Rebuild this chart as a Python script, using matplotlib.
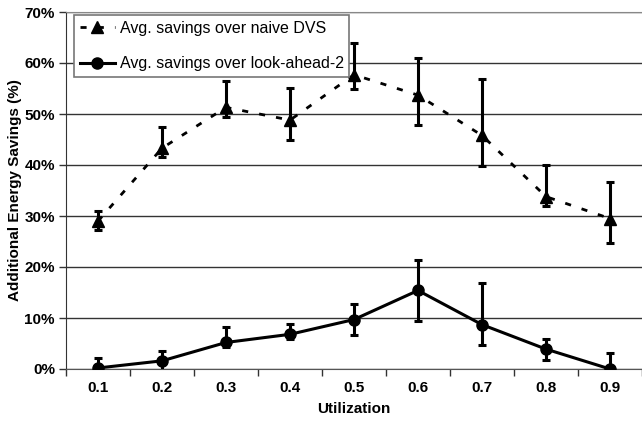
import numpy as np
import matplotlib
matplotlib.use("Agg")
import matplotlib.pyplot as plt

plt.rcParams['font.family'] = ['Liberation Sans', 'DejaVu Sans']

utilization = [0.1, 0.2, 0.3, 0.4, 0.5, 0.6, 0.7, 0.8, 0.9]
tick_labels = ['0.1', '0.2', '0.3', '0.4', '0.5', '0.6', '0.7', '0.8', '0.9']

# avg. savings over naive DVS (%) with low / high ends of the error bars
naive_mean = [29.0, 43.3, 51.3, 48.8, 57.7, 53.7, 45.8, 33.8, 29.5]
naive_low = [27.3, 41.5, 49.4, 44.9, 54.9, 47.8, 39.9, 32.0, 24.7]
naive_high = [31.0, 47.5, 56.5, 55.1, 63.9, 61.0, 56.9, 40.0, 36.6]

# avg. savings over look-ahead-2 (%)
la2_mean = [0.2, 1.6, 5.2, 6.8, 9.7, 15.4, 8.7, 3.9, 0.0]
la2_low = [-1.5, -0.5, 4.4, 5.8, 6.6, 9.4, 4.7, 1.8, -1.5]
la2_high = [2.2, 3.6, 8.3, 8.8, 12.7, 21.4, 16.8, 5.9, 3.1]

W, H = 642, 422
fig = plt.figure(figsize=(W / 100, H / 100), dpi=100)
ax = fig.add_axes([66 / W, (H - 369) / H, 576 / W, 357 / H])

x = np.array(utilization)
nm = np.array(naive_mean)
lm = np.array(la2_mean)

ax.errorbar(x, nm, yerr=[nm - np.array(naive_low), np.array(naive_high) - nm],
            fmt='none', ecolor='black', elinewidth=2.2, capsize=3, capthick=2.2,
            zorder=3)
ax.plot(x, nm, linestyle=(0, (2.2, 4.0)), color='black', lw=2.0, marker='^',
        markersize=8, label='Avg. savings over naive DVS', zorder=4)

ax.errorbar(x, lm, yerr=[lm - np.array(la2_low), np.array(la2_high) - lm],
            fmt='none', ecolor='black', elinewidth=2.2, capsize=3, capthick=2.2,
            zorder=3)
ax.plot(x, lm, linestyle='-', color='black', lw=2.2, marker='o',
        markersize=8, label='Avg. savings over look-ahead-2', zorder=4)

ax.set_xlim(0.05, 0.95)
ax.set_ylim(0, 70)
ax.set_yticks(range(0, 71, 10))
ax.set_yticklabels(['%d%%' % v for v in range(0, 71, 10)],
                   fontsize=11, fontweight='bold')
ax.set_xticks(x)
ax.set_xticklabels(tick_labels, fontsize=11, fontweight='bold')
ax.set_xticks(np.arange(0.05, 0.96, 0.1), minor=True)
ax.tick_params(axis='x', which='major', length=0, pad=9)
ax.tick_params(axis='x', which='minor', length=5, width=1, color='#333333')
ax.tick_params(axis='y', length=5, width=1, color='#333333', pad=3)

ax.grid(axis='y', color='#333333', lw=1)
ax.set_axisbelow(True)
ax.spines['right'].set_visible(False)
ax.spines['top'].set_color('#888888')
ax.spines['left'].set_color('#333333')
ax.spines['bottom'].set_color('#555555')

ax.set_xlabel('Utilization', fontsize=11, fontweight='bold', labelpad=5)
ax.set_ylabel('Additional Energy Savings (%)', fontsize=11, fontweight='bold',
              labelpad=1.5)

leg = ax.legend(loc='upper left', bbox_to_anchor=(74 / W, 1 - 15 / H),
                bbox_transform=fig.transFigure, fontsize=11.5, fancybox=False,
                framealpha=1, edgecolor='#777777', handlelength=2.2,
                handletextpad=0.3, borderpad=0.35, labelspacing=1.3,
                borderaxespad=0)
leg.get_frame().set_linewidth(1.2)
leg.set_zorder(10)

fig.savefig('out.png', dpi=100)
